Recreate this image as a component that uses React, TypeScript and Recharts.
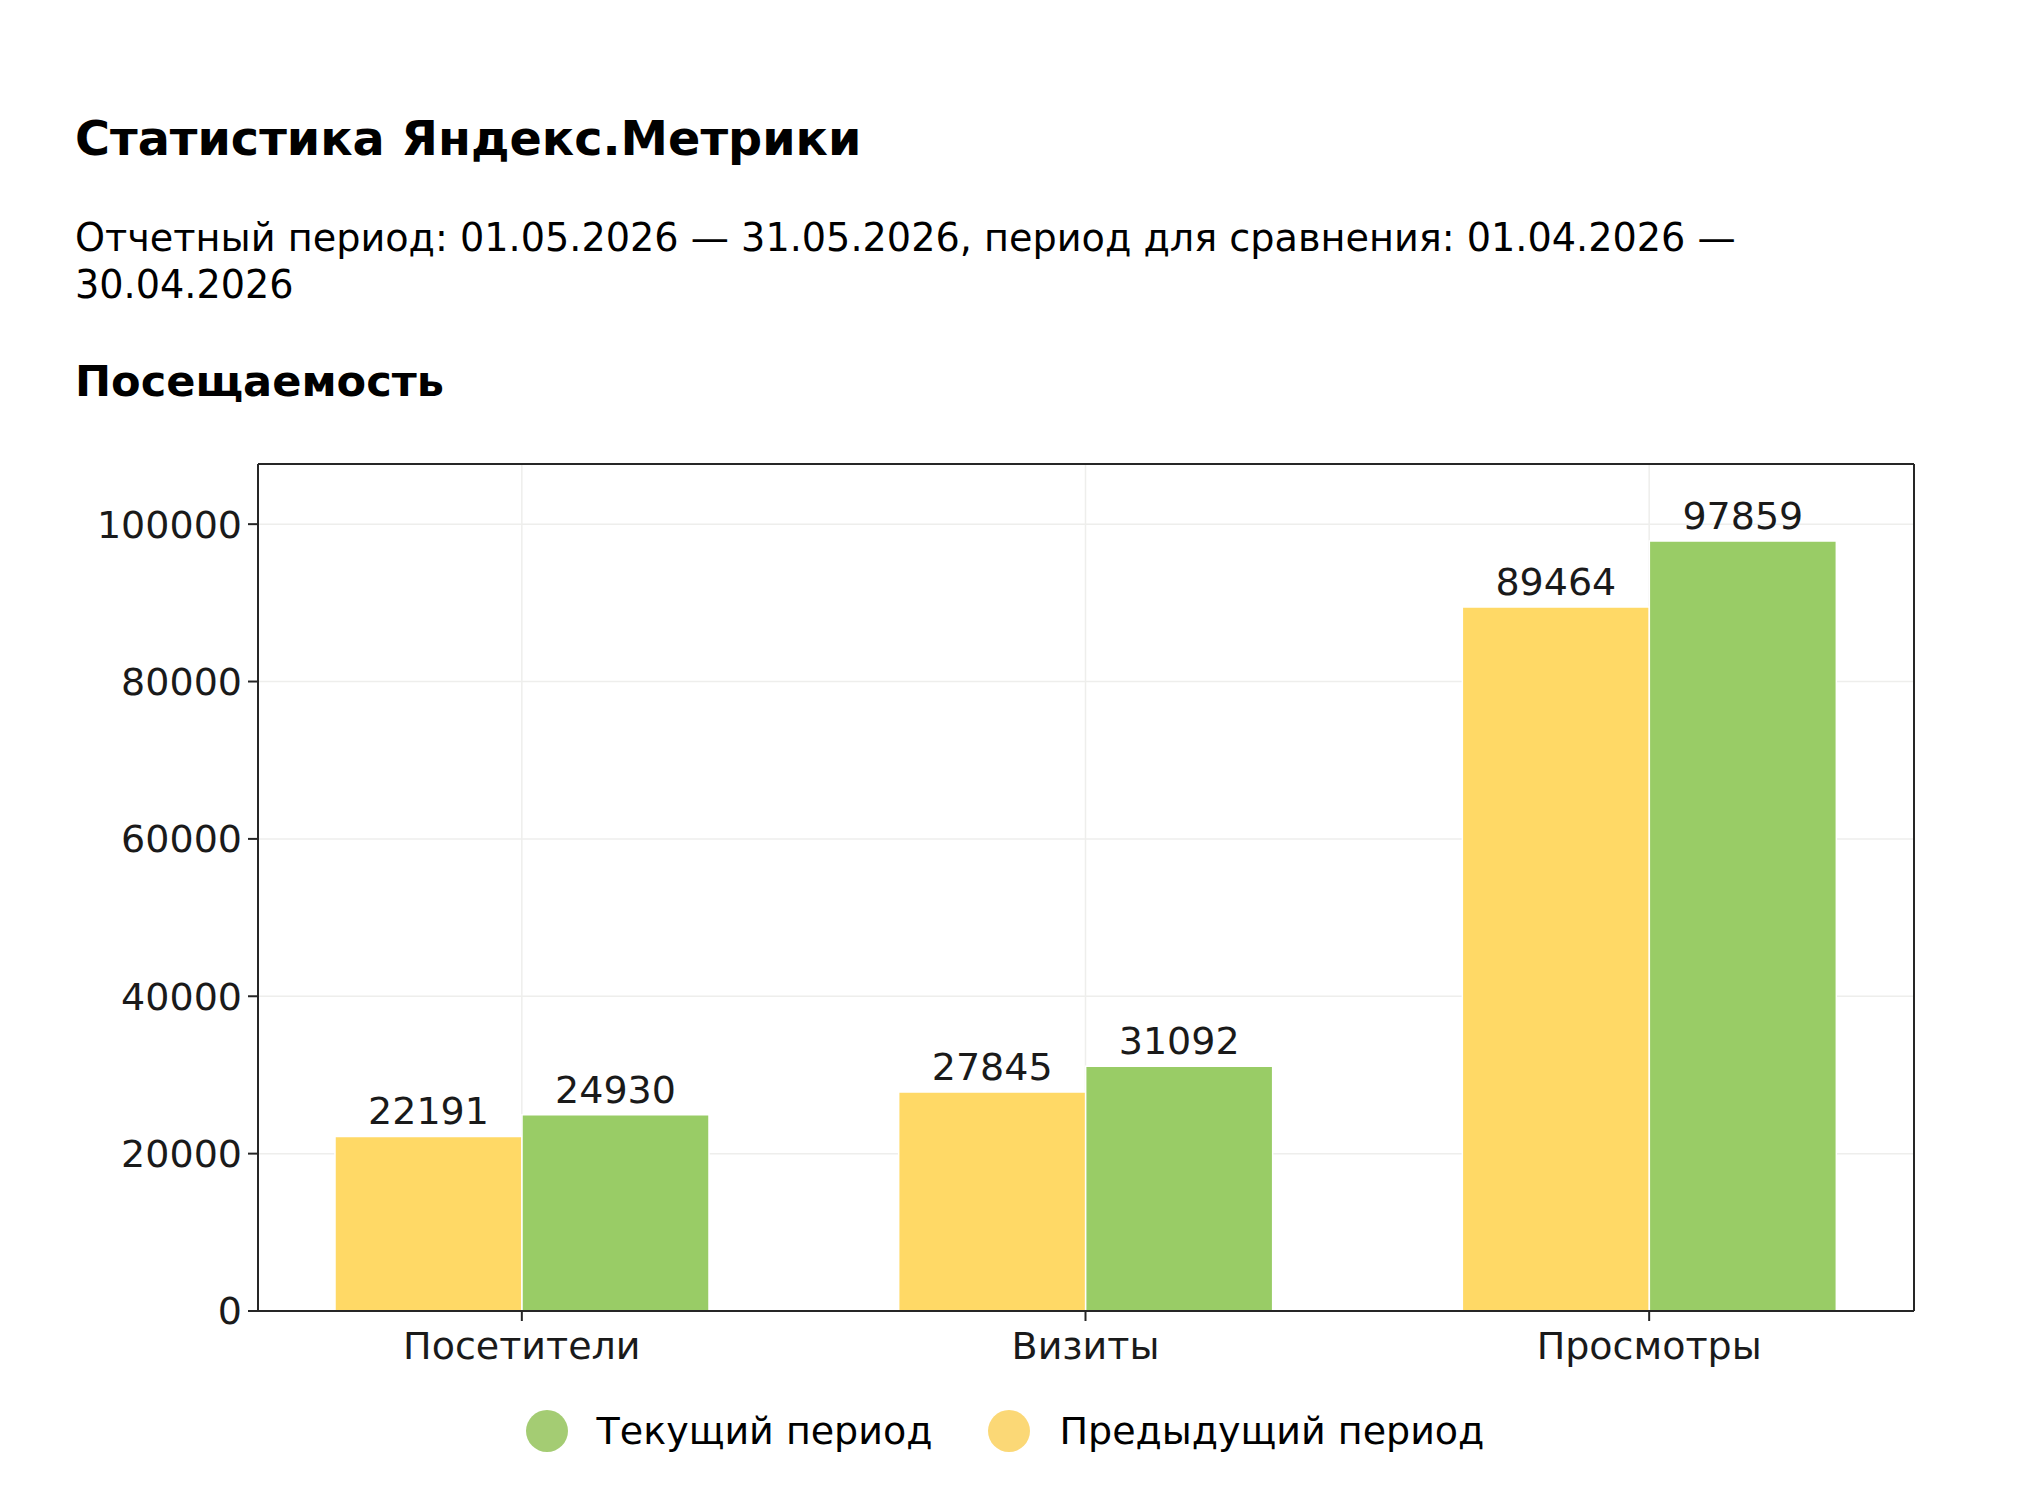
import { Bar, BarChart, CartesianGrid, LabelList, Legend, XAxis, YAxis } from "recharts";

const categories = ["Посетители", "Визиты", "Просмотры"];
const previousPeriod = [22191, 27845, 89464];
const currentPeriod = [24930, 31092, 97859];
const yTicks = [0, 20000, 40000, 60000, 80000, 100000];

const FONT = "'DejaVu Sans', sans-serif";
const AXIS_COLOR = "#262626";
const TEXT_COLOR = "#1a1a1a";

const SERIES = [
  { key: "previous", name: "Предыдущий период", fill: "#FFD966", legend: "#FBD876" },
  { key: "current", name: "Текущий период", fill: "#99CC66", legend: "#A4CC73" },
];

const data = categories.map((name, i) => ({
  name,
  previous: previousPeriod[i],
  current: currentPeriod[i],
}));

const yMax = Math.max(...currentPeriod, ...previousPeriod) * 1.1;

function LegendContent({ payload }: any) {
  const items = [...(payload || [])].reverse();
  return (
    <div style={{ height: 60, display: "flex", justifyContent: "center", alignItems: "center", gap: 56 }}>
      {items.map((entry: any) => {
        const s = SERIES.find((x) => x.key === entry.dataKey);
        return (
          <div key={entry.value} style={{ display: "flex", alignItems: "center", gap: 29 }}>
            <span
              style={{ width: 42, height: 42, borderRadius: "50%", background: s ? s.legend : entry.color, display: "inline-block" }}
            />
            <span style={{ fontFamily: FONT, fontSize: 38, color: "#000" }}>{entry.value}</span>
          </div>
        );
      })}
    </div>
  );
}

export default function App() {
  return (
    <div style={{ position: "relative", width: 2016, height: 1470, fontFamily: FONT, color: "#000" }}>
      <div style={{ position: "absolute", left: 67, top: 107, fontSize: 47.7, lineHeight: "48px", fontWeight: "bold", whiteSpace: "nowrap" }}>
        Статистика Яндекс.Метрики
      </div>
      <div style={{ position: "absolute", left: 67, top: 207, fontSize: 38.2, lineHeight: "46.5px", whiteSpace: "nowrap" }}>
        Отчетный период: 01.05.2026 — 31.05.2026, период для сравнения: 01.04.2026 —
        <br />
        30.04.2026
      </div>
      <div style={{ position: "absolute", left: 67, top: 351, fontSize: 43.1, lineHeight: "44px", fontWeight: "bold", whiteSpace: "nowrap" }}>
        Посещаемость
      </div>
      <div style={{ position: "absolute", left: 0, top: 420 }}>
        <BarChart
          width={2016}
          height={1050}
          data={data}
          barGap={0}
          barSize={187}
          margin={{ top: 35, right: 109, bottom: 17, left: 0 }}
        >
          <CartesianGrid stroke="#eeeeec" strokeWidth={1.5} />
          <XAxis
            dataKey="name"
            height={90}
            padding={{ left: -18, right: -17 }}
            tickSize={10}
            tickMargin={11}
            tick={{ fontSize: 38, fill: TEXT_COLOR, fontFamily: FONT }}
            axisLine={{ stroke: AXIS_COLOR, strokeWidth: 2 }}
            tickLine={{ stroke: AXIS_COLOR, strokeWidth: 2 }}
          />
          <XAxis
            xAxisId="top"
            dataKey="name"
            orientation="top"
            height={1}
            tick={false}
            tickLine={false}
            axisLine={{ stroke: AXIS_COLOR, strokeWidth: 2 }}
          />
          <YAxis
            width={250}
            domain={[0, yMax]}
            ticks={yTicks}
            allowDataOverflow
            tickSize={10}
            tickMargin={6}
            tick={{ fontSize: 38, fill: TEXT_COLOR, fontFamily: FONT }}
            axisLine={{ stroke: AXIS_COLOR, strokeWidth: 2 }}
            tickLine={{ stroke: AXIS_COLOR, strokeWidth: 2 }}
          />
          <YAxis
            yAxisId="right"
            orientation="right"
            width={1}
            domain={[0, yMax]}
            tick={false}
            tickLine={false}
            axisLine={{ stroke: AXIS_COLOR, strokeWidth: 2 }}
          />
          {SERIES.map((s) => (
            <Bar key={s.key} dataKey={s.key} name={s.name} fill={s.fill} stroke="#ffffff" strokeWidth={1.5} isAnimationActive={false}>
              <LabelList dataKey={s.key} position="top" offset={12} fill={TEXT_COLOR} fontSize={38} fontFamily={FONT} />
            </Bar>
          ))}
          <Legend verticalAlign="bottom" wrapperStyle={{ left: 0, width: 1994 }} content={<LegendContent />} />
        </BarChart>
      </div>
    </div>
  );
}
